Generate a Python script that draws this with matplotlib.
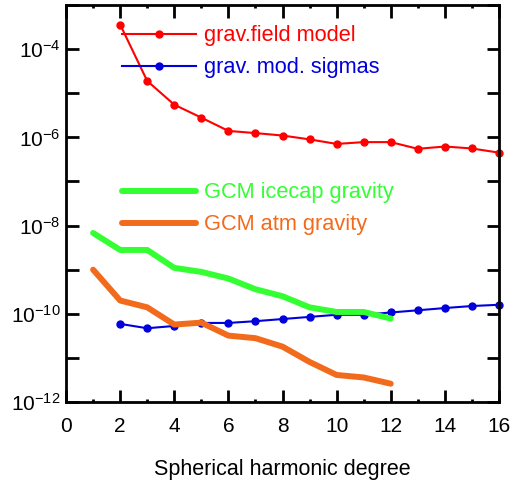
import numpy as np
import matplotlib.pyplot as plt
from matplotlib.ticker import FixedLocator, NullFormatter

plt.rcParams['font.family'] = ['Liberation Sans', 'DejaVu Sans']
plt.rcParams['mathtext.fontset'] = 'custom'
plt.rcParams['mathtext.rm'] = 'Liberation Sans'
plt.rcParams['axes.unicode_minus'] = False

# данные
deg_field = [2, 3, 4, 5, 6, 7, 8, 9, 10, 11, 12, 13, 14, 15, 16]
grav_field = [3.6e-4, 1.9e-5, 5.5e-6, 2.8e-6, 1.4e-6, 1.25e-6, 1.1e-6, 9e-7,
              7.1e-7, 7.8e-7, 7.8e-7, 5.5e-7, 6.2e-7, 5.6e-7, 4.5e-7]
grav_sigmas = [5.9e-11, 4.7e-11, 5.3e-11, 6.2e-11, 6.2e-11, 6.8e-11, 7.6e-11, 8.5e-11,
               9.5e-11, 9.5e-11, 1.07e-10, 1.2e-10, 1.35e-10, 1.5e-10, 1.6e-10]

deg_gcm = [1, 2, 3, 4, 5, 6, 7, 8, 9, 10, 11, 12]
icecap = [6.8e-9, 2.8e-9, 2.8e-9, 1.1e-9, 8.9e-10, 6.3e-10, 3.6e-10, 2.5e-10,
          1.4e-10, 1.1e-10, 1.1e-10, 7.8e-11]
atm = [1.0e-9, 2.0e-10, 1.4e-10, 5.7e-11, 6.3e-11, 3.2e-11, 2.8e-11, 1.8e-11,
       8.1e-12, 4.1e-12, 3.6e-12, 2.6e-12]

fig = plt.figure(figsize=(5.16, 4.8), dpi=100)
ax = fig.add_axes([0.128, 0.1625, 0.839, 0.827])

l1, = ax.plot(deg_field, grav_field, '-o', color='#ff0000', lw=1.5, ms=5, clip_on=False,
              label='grav.field model')
l2, = ax.plot(deg_field, grav_sigmas, '-o', color='#0000dd', lw=1.5, ms=5, clip_on=False,
              label='grav. mod. sigmas')
l3, = ax.plot(deg_gcm, icecap, '-', color='#33ff33', lw=4.3, solid_capstyle='round',
              label='GCM icecap gravity')
l4, = ax.plot(deg_gcm, atm, '-', color='#f26b1d', lw=4.3, solid_capstyle='round',
              label='GCM atm gravity')

ax.set_yscale('log')
ax.set_xlim(0, 16)
ax.set_ylim(1e-12, 1e-3)
ax.yaxis.set_major_locator(FixedLocator([1e-12, 1e-10, 1e-8, 1e-6, 1e-4]))
ax.yaxis.set_minor_locator(FixedLocator([1e-11, 1e-9, 1e-7, 1e-5, 1e-3]))
ax.yaxis.set_minor_formatter(NullFormatter())
ax.set_xticks(range(0, 17, 2))
ax.set_xticks(range(1, 17, 2), minor=True)

ax.tick_params(which='both', direction='in', top=True, right=True, labelsize=15, width=2)
ax.tick_params(axis='y', which='both', length=9, pad=4)
ax.tick_params(axis='x', which='major', length=9)
ax.tick_params(axis='x', which='minor', length=2)
ax.tick_params(axis='x', pad=11)
for s in ax.spines.values():
    s.set_linewidth(2)

ax.set_xlabel('Spherical harmonic degree', fontsize=15.5, labelpad=16)

leg1 = ax.legend(handles=[l1, l2], loc='upper left', bbox_to_anchor=(0.083, 0.998),
                 frameon=False, fontsize=15.7, handlelength=3.4, handletextpad=0.4,
                 labelspacing=0.5)
for t, l in zip(leg1.get_texts(), [l1, l2]):
    t.set_color(l.get_color())
ax.add_artist(leg1)
leg2 = ax.legend(handles=[l3, l4], loc='upper left', bbox_to_anchor=(0.083, 0.603),
                 frameon=False, fontsize=15.7, handlelength=3.4, handletextpad=0.4,
                 labelspacing=0.5)
for t, l in zip(leg2.get_texts(), [l3, l4]):
    t.set_color(l.get_color())

fig.savefig('out.png', dpi=100)
